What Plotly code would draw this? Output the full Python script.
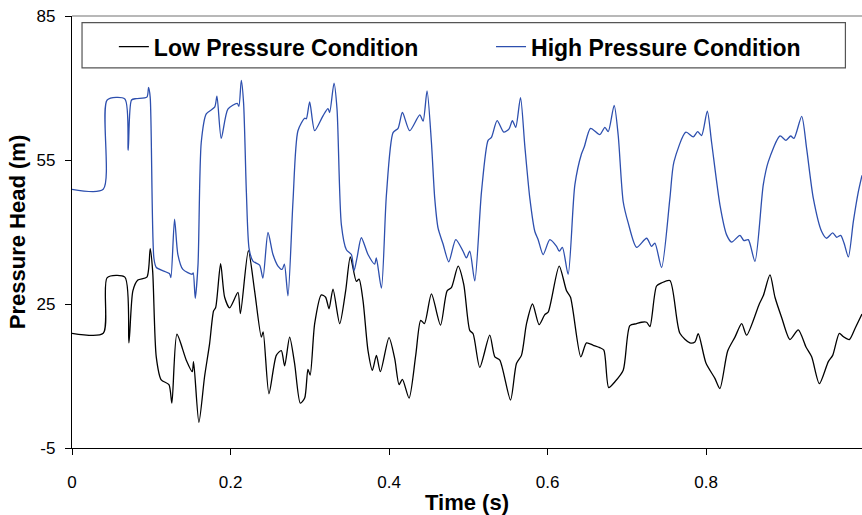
import plotly.graph_objects as go

# ---- data ----
time_high = [0, 0.0394, 0.0444, 0.0667, 0.0709, 0.0751, 0.081, 0.0945, 0.0966, 0.0987,
             0.1033, 0.1064, 0.1231, 0.1248, 0.1294, 0.1336, 0.1399, 0.1517, 0.153, 0.1555,
             0.159, 0.1631, 0.1694, 0.18, 0.1829, 0.1883, 0.1967, 0.2085, 0.2106, 0.2136,
             0.2165, 0.22, 0.2235, 0.2283, 0.2367, 0.2409, 0.2473, 0.2536, 0.2599, 0.2651,
             0.268, 0.2725, 0.2788, 0.2851, 0.2936, 0.2957, 0.2999, 0.3062, 0.3167, 0.323,
             0.3251, 0.3306, 0.3344, 0.3399, 0.3462, 0.3525, 0.3559, 0.3596, 0.3651, 0.3735,
             0.3819, 0.384, 0.3904, 0.3967, 0.4051, 0.4114, 0.4169, 0.4261, 0.4388, 0.443,
             0.448, 0.4535, 0.4577, 0.4619, 0.4682, 0.4754, 0.4842, 0.4934, 0.4976, 0.5019,
             0.5082, 0.5167, 0.525, 0.5292, 0.5364, 0.5448, 0.5515, 0.5557, 0.5599, 0.5659,
             0.5713, 0.5777, 0.584, 0.5882, 0.5945, 0.6029, 0.6114, 0.6148, 0.6188, 0.626,
             0.6345, 0.6429, 0.6463, 0.6543, 0.666, 0.6724, 0.6766, 0.6841, 0.6892, 0.6955,
             0.7018, 0.7124, 0.725, 0.7313, 0.7355, 0.7439, 0.7544, 0.7595, 0.7746, 0.7839,
             0.7894, 0.7944, 0.8016, 0.807, 0.8176, 0.826, 0.8323, 0.8428, 0.8478, 0.8533,
             0.8617, 0.8722, 0.8785, 0.8933, 0.9009, 0.9068, 0.911, 0.9207, 0.927, 0.9354,
             0.9459, 0.9522, 0.9598, 0.9649, 0.9699, 0.9741, 0.9796, 0.9859, 0.9922, 0.9968]
head_high = [48.9, 48.9, 67.5, 67.7, 57.0, 67.5, 67.8, 68.1, 70.1, 68.0,
             34.6, 32.6, 31.3, 30.5, 42.7, 35.3, 32.2, 31.2, 31.5, 26.2,
             33.2, 58.7, 64.6, 66.0, 68.3, 59.5, 65.6, 66.8, 66.2, 71.6,
             66.9, 48.4, 36.5, 33.95, 33.1, 30.4, 39.9, 35.3, 32.9, 32.2,
             33.3, 26.7, 46.3, 61.1, 63.7, 63.6, 67.1, 61.1, 64.2, 65.7,
             64.9, 71.0, 65.6, 41.5, 36.3, 35.3, 31.9, 34.6, 38.8, 35.3,
             33.3, 34.6, 28.3, 47.7, 60.7, 61.6, 64.9, 61.1, 64.4, 63.1,
             69.4, 58.7, 47.0, 40.8, 37.5, 33.8, 38.4, 36.0, 34.6, 36.0,
             29.8, 48.4, 59.1, 59.7, 63.2, 60.8, 61.5, 63.2, 61.8, 68.0,
             58.0, 47.0, 40.1, 38.4, 35.3, 38.4, 37.0, 36.0, 36.8, 31.2,
             49.8, 56.3, 57.7, 61.6, 60.3, 61.8, 60.9, 66.4, 60.1, 46.3,
             41.9, 36.8, 38.7, 37.0, 37.7, 32.6, 47.0, 54.6, 60.8, 59.8,
             60.9, 60.1, 65.2, 58.7, 45.6, 39.4, 37.9, 39.3, 38.2, 38.4,
             33.9, 49.8, 54.6, 60.0, 59.1, 60.0, 59.5, 64.1, 57.3, 47.0,
             40.1, 38.7, 39.8, 38.9, 39.3, 37.7, 34.8, 42.2, 48.4, 51.8]

time_low = [0, 0.0394, 0.0444, 0.0667, 0.0718, 0.0768, 0.0831, 0.0945, 0.0987, 0.1018,
            0.1063, 0.1126, 0.1223, 0.126, 0.1324, 0.1442, 0.1517, 0.1534, 0.1601, 0.1673,
            0.1736, 0.1787, 0.1812, 0.1875, 0.1926, 0.1989, 0.2094, 0.2125, 0.2225, 0.2304,
            0.2389, 0.2412, 0.2485, 0.2578, 0.2641, 0.2683, 0.2746, 0.2809, 0.2881, 0.2936,
            0.2977, 0.3005, 0.3062, 0.3146, 0.32, 0.3243, 0.3293, 0.3378, 0.3453, 0.3512,
            0.3588, 0.3622, 0.3672, 0.3735, 0.379, 0.3841, 0.3891, 0.4, 0.4072, 0.4127,
            0.4169, 0.4253, 0.4337, 0.44, 0.4447, 0.4535, 0.465, 0.4733, 0.4787, 0.4872,
            0.4943, 0.5019, 0.5061, 0.5145, 0.5271, 0.5335, 0.5398, 0.5533, 0.5608, 0.5671,
            0.5735, 0.5811, 0.5894, 0.5966, 0.6008, 0.6147, 0.624, 0.629, 0.642, 0.6492,
            0.6577, 0.666, 0.6711, 0.6772, 0.685, 0.6955, 0.7039, 0.7124, 0.7187, 0.725,
            0.7292, 0.7376, 0.7439, 0.7544, 0.767, 0.7797, 0.786, 0.7902, 0.7999, 0.8112,
            0.8175, 0.8273, 0.8365, 0.845, 0.8512, 0.8672, 0.8722, 0.8807, 0.887, 0.8954,
            0.9059, 0.9164, 0.9261, 0.9333, 0.943, 0.9543, 0.9598, 0.9682, 0.9733, 0.9808,
            0.988, 0.9968]
head_low = [18.9, 18.9, 30.5, 30.6, 16.9, 27.75, 30.0, 30.6, 36.55, 31.8,
            14.0, 9.2, 8.2, 4.35, 18.7, 13.3, 10.9, 13.0, 0.36, 9.9,
            16.7, 23.6, 24.2, 33.4, 26.4, 24.2, 27.4, 23.0, 36.1, 27.75,
            18.1, 19.2, 6.3, 14.3, 15.3, 12.1, 18.1, 12.6, 4.35, 5.4,
            11.4, 10.2, 20.9, 26.9, 26.4, 24.0, 28.1, 20.9, 27.75, 34.8,
            29.7, 30.2, 25.7, 15.3, 11.2, 14.3, 10.9, 18.0, 13.6, 8.2,
            9.3, 5.4, 14.3, 21.6, 20.9, 27.1, 20.6, 27.75, 28.4, 32.9,
            29.1, 19.5, 18.8, 11.8, 18.5, 14.0, 13.3, 5.0, 12.6, 14.3,
            20.9, 25.0, 20.7, 22.8, 23.3, 32.9, 27.75, 26.4, 14.0, 16.9,
            16.4, 15.9, 15.4, 7.6, 8.8, 11.2, 20.5, 20.9, 21.2, 21.2,
            20.3, 28.75, 29.4, 29.9, 18.9, 16.9, 17.1, 18.8, 12.7, 9.5,
            7.4, 15.2, 18.1, 20.9, 18.5, 25.0, 26.7, 31.05, 26.4, 22.2,
            17.6, 19.6, 16.05, 14.0, 8.4, 13.0, 14.3, 18.9, 18.2, 17.6,
            19.9, 22.9]

series_names = ["Low Pressure Condition", "High Pressure Condition"]
x_ticks = [0, 0.2, 0.4, 0.6, 0.8]
x_tick_text = ["0", "0.2", "0.4", "0.6", "0.8"]
y_ticks = [-5, 25, 55, 85]
y_tick_text = ["-5", "25", "55", "85"]

FONT = "Liberation Sans, Arial, sans-serif"
BLUE = "#2d4fae"
legend_font = dict(family=FONT, size=23, color="#000", weight="bold")

fig = go.Figure()
fig.add_trace(go.Scatter(x=time_low, y=head_low, mode="lines", name=series_names[0],
                         legend="legend",
                         line=dict(color="#000000", width=1.3, shape="spline", smoothing=0.7)))
fig.add_trace(go.Scatter(x=time_high, y=head_high, mode="lines", name=series_names[1],
                         legend="legend2",
                         line=dict(color=BLUE, width=1.3, shape="spline", smoothing=0.7)))

fig.update_layout(
    width=862, height=515,
    margin=dict(l=72, r=0, t=16, b=63),
    paper_bgcolor="white", plot_bgcolor="white",
    font=dict(family=FONT, size=17, color="#000"),
    showlegend=True,
    legend=dict(orientation="h", x=0.053, y=0.929, xanchor="left", yanchor="middle",
                font=legend_font, bgcolor="rgba(0,0,0,0)", borderwidth=0, itemclick=False),
    legend2=dict(orientation="h", x=0.5304, y=0.929, xanchor="left", yanchor="middle",
                 font=legend_font, bgcolor="rgba(0,0,0,0)", borderwidth=0, itemclick=False),
    xaxis=dict(range=[0, 0.9968], tickvals=x_ticks, ticktext=x_tick_text,
               showgrid=False, zeroline=False, showline=True, linecolor="#000",
               linewidth=1.3, ticks="outside", ticklen=6, tickcolor="#000",
               ticklabelstandoff=12,
               title=dict(text="<b>Time (s)</b>", font=dict(size=22), standoff=8)),
    yaxis=dict(range=[-5, 85], tickvals=y_ticks, ticktext=y_tick_text,
               showgrid=False, zeroline=False, showline=True, linecolor="#000",
               linewidth=1.3, ticks="outside", ticklen=6, tickcolor="#000",
               ticklabelstandoff=6,
               title=dict(text="<b>Pressure Head (m)</b>", font=dict(size=22), standoff=4)),
    shapes=[
        dict(type="line", xref="paper", yref="paper", x0=0, x1=1, y0=1, y1=1,
             line=dict(color="#a0a0a0", width=1.3)),
        dict(type="rect", xref="paper", yref="paper", x0=0.0127, x1=0.979, y0=0.880, y1=0.9846,
             line=dict(color="#555555", width=1.2), fillcolor="rgba(0,0,0,0)"),
    ],
)

fig.write_html("out.html")
